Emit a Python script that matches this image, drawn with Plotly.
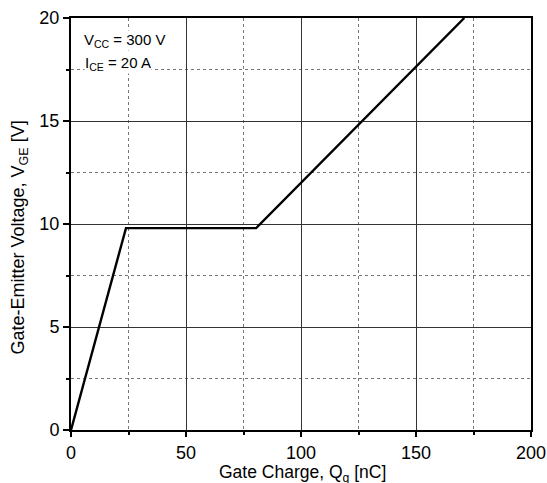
import plotly.graph_objects as go

# Gate charge curve: Q_g [nC] vs V_GE [V]
gate_charge_nc = [0, 23.9, 80.5, 171]
gate_voltage_v = [0, 9.8, 9.8, 20]

x_ticks = [0, 50, 100, 150, 200]
y_ticks = [0, 5, 10, 15, 20]

FONT = "Liberation Sans, Arial, sans-serif"

fig = go.Figure()
fig.add_trace(go.Scatter(
    x=gate_charge_nc, y=gate_voltage_v, mode="lines",
    line=dict(color="black", width=2.4), showlegend=False,
))

axis_common = dict(
    showline=True, linecolor="black", linewidth=2, mirror=True,
    showgrid=True, gridcolor="#333", gridwidth=1,
    ticks="outside", tickwidth=1.5, tickcolor="black",
    zeroline=False, automargin=False,
    tickfont=dict(family=FONT, size=18, color="black"),
)

fig.update_xaxes(
    range=[0, 200], tickvals=x_ticks, ticktext=[str(v) for v in x_ticks],
    ticklen=5,
    minor=dict(dtick=25, tick0=0, showgrid=True, griddash="dot",
               gridcolor="#777", gridwidth=1, ticks="outside", ticklen=3,
               tickcolor="black", tickwidth=1.5),
    **axis_common,
)
fig.update_yaxes(
    range=[0, 20], tickvals=y_ticks, ticktext=[str(v) for v in y_ticks],
    ticklen=6,
    minor=dict(dtick=2.5, tick0=0, showgrid=True, griddash="dot",
               gridcolor="#777", gridwidth=1, ticks="outside", ticklen=3,
               tickcolor="black", tickwidth=1.5),
    **axis_common,
)

fig.add_annotation(
    x=0.504, y=-0.106, xref="paper", yref="paper",
    xanchor="center", yanchor="middle", showarrow=False,
    text="Gate Charge, Q<sub>g</sub> [nC]",
    font=dict(family=FONT, size=17.5, color="black"),
)
fig.add_annotation(
    x=-0.111, y=0.467, xref="paper", yref="paper",
    xanchor="center", yanchor="middle", showarrow=False, textangle=-90,
    text="Gate-Emitter Voltage, V<sub>GE</sub> [V]",
    font=dict(family=FONT, size=18, color="black"),
)

# Test conditions
cond_font = dict(family=FONT, size=15, color="black")
fig.add_annotation(
    x=0.026, y=0.972, xref="paper", yref="paper", xanchor="left", yanchor="top",
    text="V<sub>CC</sub> = 300 V", showarrow=False, bgcolor="white",
    borderpad=0, font=cond_font,
)
fig.add_annotation(
    x=0.028, y=0.915, xref="paper", yref="paper", xanchor="left", yanchor="top",
    text="I<sub>CE</sub> = 20 A", showarrow=False, bgcolor="white",
    borderpad=0, font=cond_font,
)

fig.update_layout(
    width=547, height=483,
    margin=dict(l=71, r=16, t=18, b=53),
    plot_bgcolor="white", paper_bgcolor="white",
)

fig.write_html("out.html")
